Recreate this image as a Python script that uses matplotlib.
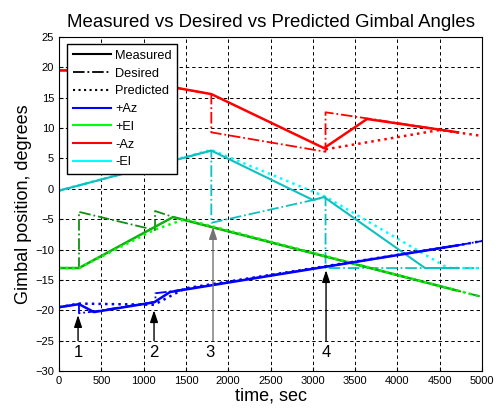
import numpy as np
import matplotlib
matplotlib.use('Agg')
import matplotlib.pyplot as plt
from matplotlib.lines import Line2D

plt.rcParams['font.family'] = ['Liberation Sans', 'DejaVu Sans']

# +Az (blue)
az_p_t   = [0, 236, 414, 1123, 1312, 4716]
az_p_y   = [-19.5, -19.0, -20.3, -18.7, -17.0, -9.3]
az_d_t   = [0, 236, 236, 414, 1140, 1140, 1320, 4716, 5000]
az_d_y   = [-19.5, -19.0, -20.5, -20.2, -18.6, -17.2, -16.9, -9.3, -8.6]
az_pr_t  = [0, 236, 1123, 1489, 4716, 5000]
az_pr_y  = [-19.5, -18.9, -19.1, -16.4, -9.3, -8.6]

# +El (green)
el_p_t   = [0, 236, 1348, 4716]
el_p_y   = [-13.05, -13.05, -4.65, -16.8]
el_d_t   = [0, 236, 236, 1135, 1135, 1348, 4716, 5000]
el_d_y   = [-13.05, -13.05, -3.8, -6.8, -3.65, -4.65, -16.8, -17.8]
el_pr_t  = [0, 236, 1135, 1489, 4716, 5000]
el_pr_y  = [-13.05, -13.05, -6.7, -5.0, -16.8, -17.8]

# -Az (red)
naz_p_t  = [0, 236, 1800, 3132, 3641, 4716]
naz_p_y  = [19.5, 19.5, 15.6, 6.7, 11.5, 9.3]
naz_d_t  = [0, 236, 1800, 1800, 3150, 3150, 3641, 4716]
naz_d_y  = [19.5, 19.5, 15.6, 9.3, 6.1, 12.6, 11.6, 9.3]
naz_pr_t = [3150, 4503, 5000]
naz_pr_y = [6.5, 9.7, 8.7]

# -El (cyan)
nel_p_t  = [0, 1800, 3002, 3132, 4326, 4716]
nel_p_y  = [-0.3, 6.3, -1.85, -1.35, -13.05, -13.05]
nel_d_t  = [0, 1800, 1800, 3002, 3150, 3150, 5000]
nel_d_y  = [-0.3, 6.3, -5.6, -1.85, -1.35, -13.05, -13.05]
nel_pr_t = [0, 1800, 3150, 4598, 5000]
nel_pr_y = [-0.3, 6.4, -1.3, -13.05, -13.05]

# event markers
ev_labels = ['1', '2', '3', '4']
ev_t      = [225, 1123, 1820, 3156]
ev_tip    = [-20.8, -20.0, -6.3, -13.4]
ev_txt_t  = [225, 1123, 1785, 3156]
ev_txt_y  = [-27.0, -27.0, -27.0, -27.0]

fig = plt.figure(figsize=(4.98, 4.09), dpi=100)
ax = fig.add_axes([0.1185, 0.093, 0.8495, 0.8165])

ax.plot(naz_d_t, naz_d_y, color='#ff0000', ls='-.', lw=1.3)
ax.plot(naz_p_t, naz_p_y, color='#ff0000', ls='-', lw=1.8)
ax.plot(naz_pr_t, naz_pr_y, color='#ff0000', ls=':', lw=1.8)

ax.plot(nel_d_t, nel_d_y, color='#10c0c0', ls='-.', lw=1.3)
ax.plot(nel_pr_t, nel_pr_y, color='#00ffff', ls=':', lw=1.8)
ax.plot(nel_p_t, nel_p_y, color='#10c0c0', ls='-', lw=1.5)

ax.plot(el_d_t, el_d_y, color='#109010', ls='-.', lw=1.3)
ax.plot(el_p_t, el_p_y, color='#10b010', ls='-', lw=1.8)
ax.plot(el_pr_t, el_pr_y, color='#00ff00', ls=':', lw=1.8)

ax.plot(az_d_t, az_d_y, color='#0000ff', ls='-.', lw=1.3)
ax.plot(az_p_t, az_p_y, color='#0000ff', ls='-', lw=1.8)
ax.plot(az_pr_t, az_pr_y, color='#0000ff', ls=':', lw=1.8)

for i in range(len(ev_labels)):
    col = '0.45' if ev_labels[i] == '3' else 'black'
    ax.annotate('', xy=(ev_t[i], ev_tip[i]), xytext=(ev_t[i], ev_txt_y[i] + 2.0),
                arrowprops=dict(arrowstyle='-|>,head_length=0.6,head_width=0.2',
                                color=col, lw=1.0,
                                mutation_scale=12, shrinkA=0, shrinkB=0))
    ax.text(ev_txt_t[i], ev_txt_y[i], ev_labels[i], ha='center', va='center',
            fontsize=12)

ax.set_xlim(0, 5000)
ax.set_ylim(-30, 25)
ax.set_xticks(np.arange(0, 5001, 500))
ax.set_yticks(np.arange(-30, 26, 5))
ax.tick_params(direction='in', labelsize=8, length=3)
ax.grid(True, color='black', ls=(0, (3.5, 3)), lw=0.7)
ax.set_axisbelow(True)

ax.set_title('Measured vs Desired vs Predicted Gimbal Angles', fontsize=13.4, pad=7)
ax.set_xlabel('time, sec', fontsize=13, labelpad=1)
ax.set_ylabel('Gimbal position, degrees', fontsize=13, labelpad=2)

handles = [
    Line2D([], [], color='black', ls='-', lw=1.5),
    Line2D([], [], color='black', ls='-.', lw=1.3),
    Line2D([], [], color='black', ls=':', lw=1.5),
    Line2D([], [], color='#0000ff', ls='-', lw=1.5),
    Line2D([], [], color='#00ff00', ls='-', lw=1.5),
    Line2D([], [], color='#ff0000', ls='-', lw=1.5),
    Line2D([], [], color='#00ffff', ls='-', lw=1.5),
]
names = ['Measured', 'Desired', 'Predicted', '+Az', '+El', '-Az', '-El']
leg = ax.legend(handles, names, loc='upper left', bbox_to_anchor=(0.019, 0.979),
                fontsize=9.2, fancybox=False, framealpha=1, edgecolor='black',
                handlelength=3.0, handletextpad=0.3, labelspacing=0.45,
                borderpad=0.45, borderaxespad=0)
leg.get_frame().set_linewidth(1.0)

fig.savefig('out.png', dpi=100)
